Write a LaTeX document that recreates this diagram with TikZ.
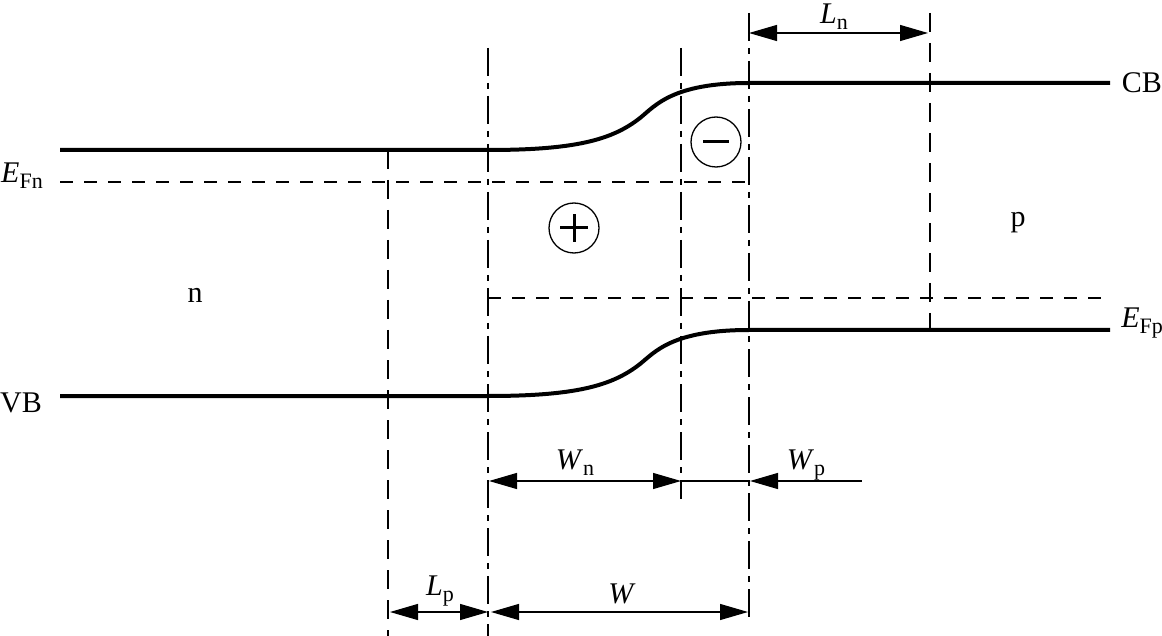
\documentclass[tikz,border=0pt]{standalone}
\usepackage{fontspec}
\setmainfont{Liberation Serif}
\usetikzlibrary{arrows.meta}
\tikzset{
  band/.style={line width=4pt},
  fermi/.style={line width=1.3pt, dash pattern=on 13pt off 11pt},
  vdash/.style={line width=1.3pt, dash pattern=on 19pt off 11pt},
  vdashdot/.style={line width=1.4pt, dash pattern=on 28pt off 7pt on 6pt off 7pt},
  dim/.style={line width=1.2pt, {Triangle[length=28pt,width=16pt]}-{Triangle[length=28pt,width=16pt]}},
  charge/.style={draw, circle, line width=1.3pt, minimum size=50pt, inner sep=0pt},
  sign/.style={line width=3pt},
  lab/.style={inner sep=0pt, font=\fontsize{30}{32}\selectfont},
}
\newcommand{\sym}[2]{\textit{#1}\raisebox{-6pt}{\fontsize{22}{24}\selectfont #2}}
\begin{document}
\begin{tikzpicture}[x=1pt, y=-1pt]
\useasboundingbox (0,0) rectangle (1162,636);
% band edges
\coordinate (cbl) at (60,150);
\coordinate (cbm) at (749,83);
\coordinate (cbr) at (1110,83);
\coordinate (vbl) at (60,396);
\coordinate (vbm) at (749,330);
\coordinate (vbr) at (1110,330);
\draw[band] (cbl) -- (488,150) .. controls (575,150) and (612,140) .. (640,118) .. controls (655,106) and (672,83) .. (cbm) -- (cbr);
\draw[band] (vbl) -- (488,396) .. controls (575,396) and (612,386) .. (640,364) .. controls (655,352) and (672,330) .. (vbm) -- (vbr);
% fermi levels
\coordinate (fnl) at (60,182);
\coordinate (fnr) at (749,182);
\coordinate (fpl) at (488,298);
\coordinate (fpr) at (1110,298);
\draw[fermi] (fnl) -- (fnr);
\draw[fermi] (fpl) -- (fpr);
% vertical markers
\coordinate (lpt) at (388,150);
\coordinate (lpb) at (388,636);
\coordinate (wlt) at (488,48);
\coordinate (wlb) at (488,636);
\coordinate (wnt) at (681,48);
\coordinate (wnb) at (681,499);
\coordinate (wrt) at (749,13);
\coordinate (wrb) at (749,622);
\coordinate (lnt) at (930,13);
\coordinate (lnb) at (930,330);
\draw[vdash] (lpt) -- (lpb);
\draw[vdash] (lnt) -- (lnb);
\draw[vdashdot] (wlt) -- (wlb);
\draw[vdashdot] (wnt) -- (wnb);
\draw[vdashdot] (wrt) -- (wrb);
% dimensions
\coordinate (ln1) at (749,33);
\coordinate (ln2) at (928,33);
\coordinate (wn1) at (489,481);
\coordinate (wn2) at (681,481);
\coordinate (wp1) at (750,481);
\coordinate (wp2) at (862,481);
\coordinate (lp1) at (390,612);
\coordinate (lp2) at (488,612);
\coordinate (w1) at (491,612);
\coordinate (w2) at (748,612);
\draw[dim] (ln1) -- (ln2);
\draw[dim] (wn1) -- (wn2);
\draw[line width=1.2pt] (wn2) -- (wp1);
\draw[line width=1.2pt, {Triangle[length=28pt,width=16pt]}-] (wp1) -- (wp2);
\draw[dim] (lp1) -- (lp2);
\draw[dim] (w1) -- (w2);
% charges
\node[charge] (plus) at (574,228) {};
\node[charge] (minus) at (716,142) {};
\draw[sign] ([xshift=-14pt]plus.center) -- ([xshift=14pt]plus.center);
\draw[sign] ([yshift=-14pt]plus.center) -- ([yshift=14pt]plus.center);
\draw[sign] ([xshift=-13pt]minus.center) -- ([xshift=13pt]minus.center);
% labels
\node[lab] (nside) at (195,295) {n};
\node[lab] (pside) at (1018,223) {p};
\node[lab, anchor=base west] (vb) at (0,412) {VB};
\node[lab, anchor=base east] (cb) at (1162,93) {CB};
\node[lab, anchor=base west] (efn) at (1,183) {\sym{E}{Fn}};
\node[lab, anchor=base east] (efp) at (1163,327) {\sym{E}{Fp}};
\node[lab, anchor=base] (lnl) at (834,24) {\sym{L}{n}};
\node[lab, anchor=base] (wnl) at (575,469) {\sym{W}{n}};
\node[lab, anchor=base] (wpl) at (806,469) {\sym{W}{p}};
\node[lab, anchor=base] (lpl) at (440,595) {\sym{L}{p}};
\node[lab, anchor=base] (wl) at (622,603) {\textit{W}};
\end{tikzpicture}
\end{document}
